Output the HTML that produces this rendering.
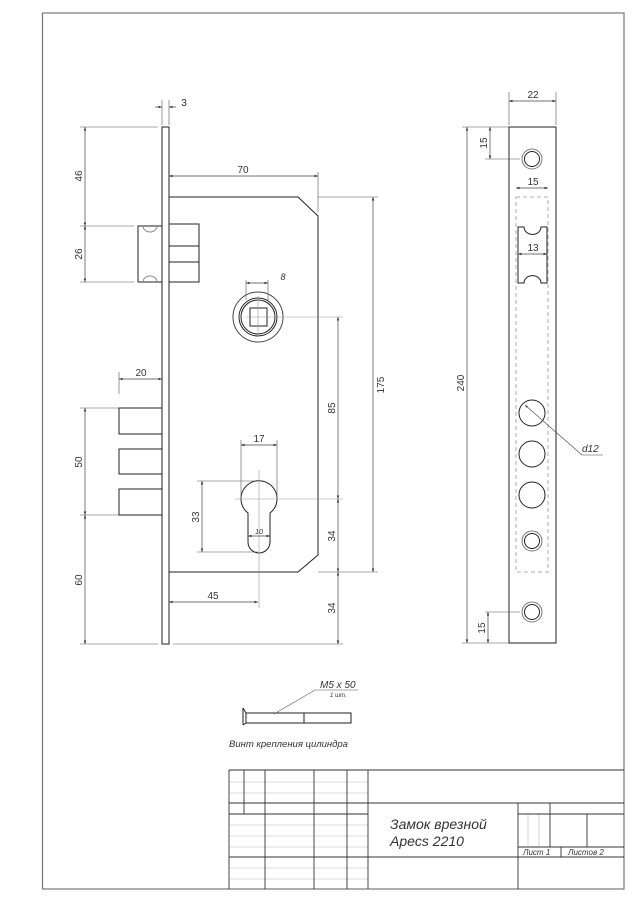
<!DOCTYPE html>
<html><head><meta charset="utf-8"><style>
html,body{margin:0;padding:0;background:#fff;width:636px;height:900px;overflow:hidden}
svg{display:block}
text{font-family:"Liberation Sans",sans-serif;fill:#333}
</style></head><body>
<svg width="636" height="900" viewBox="0 0 636 900" xmlns="http://www.w3.org/2000/svg">
<defs>
<marker id="a" viewBox="0 0 10 10" refX="10" refY="5" markerWidth="5" markerHeight="5" orient="auto-start-reverse"><path d="M0,1.5 L10,5 L0,8.5 z" fill="#333"/></marker>
</defs>
<rect x="42.5" y="13" width="581.5" height="876" fill="none" stroke="#777" stroke-width="1.2"/>

<g stroke="#222" stroke-width="1" fill="none">
<rect x="162" y="127" width="7" height="517"/>
<path d="M169,197 H298 L318,216 V555 L298,572 H169"/>
<rect x="138" y="226" width="24" height="56"/>
<path d="M143,226 A7,6 0 0 0 157,226 M143,282 A7,6 0 0 1 157,282" stroke="#888"/>
<rect x="169" y="224" width="30" height="58"/>
<line x1="169" y1="246" x2="199" y2="246"/><line x1="169" y1="262" x2="199" y2="262"/>
<rect x="119" y="408" width="43" height="26"/>
<rect x="119" y="449" width="43" height="25"/>
<rect x="119" y="489" width="43" height="26"/>
<circle cx="258" cy="317" r="25" stroke="#444"/>
<circle cx="258" cy="317" r="19"/>
<circle cx="258" cy="317" r="17"/>
<rect x="250" y="308" width="17" height="18"/>
<path d="M248,513 A18,18 0 1 1 270,513 V542 A11,11 0 0 1 248,542 Z"/>
</g>
<g stroke="#999" stroke-width="0.6" fill="none">
<line x1="246" y1="317" x2="343" y2="317"/><line x1="258" y1="296" x2="258" y2="334"/>
<line x1="259" y1="470" x2="259" y2="608"/><line x1="235" y1="499" x2="343" y2="499"/>
</g>
<g stroke="#555" stroke-width="0.6" fill="none">
<line x1="80" y1="127" x2="158" y2="127"/>
<line x1="80" y1="226" x2="134" y2="226"/>
<line x1="80" y1="282" x2="134" y2="282"/>
<line x1="80" y1="408" x2="119" y2="408"/>
<line x1="80" y1="515" x2="119" y2="515"/>
<line x1="80" y1="644" x2="158" y2="644"/>
<line x1="173" y1="644" x2="343" y2="644"/>
<line x1="318" y1="172" x2="318" y2="212"/>
<line x1="318" y1="197" x2="378" y2="197"/>
<line x1="318" y1="572" x2="378" y2="572"/>
<line x1="119" y1="372" x2="119" y2="394"/>
<line x1="162" y1="100" x2="162" y2="125"/><line x1="169" y1="100" x2="169" y2="125"/>
<line x1="241" y1="440" x2="241" y2="499"/><line x1="277" y1="440" x2="277" y2="499"/>
<line x1="197" y1="481" x2="255" y2="481"/><line x1="197" y1="552" x2="258" y2="552"/>
<line x1="246" y1="280" x2="246" y2="300"/><line x1="268" y1="280" x2="268" y2="300"/>
<line x1="509" y1="92" x2="509" y2="125"/><line x1="556" y1="92" x2="556" y2="125"/>
<line x1="462" y1="127" x2="509" y2="127"/><line x1="462" y1="643" x2="509" y2="643"/>
<line x1="485" y1="159" x2="520" y2="159"/><line x1="485" y1="612" x2="520" y2="612"/>
</g>
<g stroke="#444" stroke-width="0.7" fill="none" marker-start="url(#a)" marker-end="url(#a)">
<line x1="155" y1="107" x2="162" y2="107" marker-start="none"/>
<line x1="169" y1="107" x2="176" y2="107" marker-end="none" marker-start="url(#a)"/>
<line x1="85" y1="127" x2="85" y2="226"/>
<line x1="85" y1="226" x2="85" y2="282"/>
<line x1="85" y1="408" x2="85" y2="515"/>
<line x1="85" y1="515" x2="85" y2="644"/>
<line x1="169" y1="176" x2="318" y2="176"/>
<line x1="373" y1="197" x2="373" y2="572"/>
<line x1="338" y1="317" x2="338" y2="499"/>
<line x1="338" y1="499" x2="338" y2="572"/>
<line x1="338" y1="572" x2="338" y2="644"/>
<line x1="119" y1="379" x2="162" y2="379"/>
<line x1="241" y1="445" x2="277" y2="445"/>
<line x1="202" y1="481" x2="202" y2="552"/>
<line x1="169" y1="602" x2="258" y2="602"/>
<line x1="246" y1="283" x2="268" y2="283"/>
<line x1="248" y1="536" x2="270" y2="536"/>
<line x1="509" y1="101" x2="556" y2="101"/>
<line x1="467" y1="127" x2="467" y2="643"/>
<line x1="490" y1="127" x2="490" y2="159"/>
<line x1="488" y1="612" x2="488" y2="643"/>
<line x1="516" y1="188" x2="548" y2="188"/>
<line x1="518" y1="254" x2="547" y2="254"/>
</g>
<g font-size="10" text-anchor="middle">
<text x="184" y="106">3</text>
<text x="243" y="173">70</text>
<text x="141" y="376">20</text>
<text x="259" y="442">17</text>
<text x="213" y="599">45</text>
<text x="533" y="98">22</text>
<text x="533" y="185">15</text>
<text x="533" y="251">13</text>
<text transform="translate(82,176) rotate(-90)">46</text>
<text transform="translate(82,254) rotate(-90)">26</text>
<text transform="translate(82,462) rotate(-90)">50</text>
<text transform="translate(82,580) rotate(-90)">60</text>
<text transform="translate(384,385) rotate(-90)">175</text>
<text transform="translate(335,408) rotate(-90)">85</text>
<text transform="translate(335,536) rotate(-90)">34</text>
<text transform="translate(335,608) rotate(-90)">34</text>
<text transform="translate(199,517) rotate(-90)">33</text>
<text transform="translate(464,383) rotate(-90)">240</text>
<text transform="translate(487,143) rotate(-90)">15</text>
<text transform="translate(485,628) rotate(-90)">15</text>
</g>
<text x="283" y="280" font-size="9" font-style="italic" text-anchor="middle">8</text>
<text x="259" y="534" font-size="7" font-style="italic" text-anchor="middle">10</text>

<g stroke="#222" stroke-width="1" fill="none">
<rect x="509" y="127" width="47" height="516"/>
<rect x="516" y="197" width="32" height="375" stroke="#999" stroke-dasharray="4,3" stroke-width="0.8"/>
<path d="M518,227 H524 A8,7 0 0 0 541,227 H547 V283 H541 A8,7 0 0 0 524,283 H518 Z"/>
<circle cx="532" cy="413" r="13"/><circle cx="532" cy="454" r="13"/><circle cx="532" cy="495" r="13"/>
<circle cx="532" cy="159" r="10" stroke="#777"/><circle cx="532" cy="159" r="7.5"/>
<circle cx="532" cy="541" r="10" stroke="#777"/><circle cx="532" cy="541" r="7.5"/>
<circle cx="532" cy="612" r="10" stroke="#777"/><circle cx="532" cy="612" r="7.5"/>
</g>
<path d="M582,455 L525,405" stroke="#444" stroke-width="0.6" marker-end="url(#a)"/>
<line x1="582" y1="455" x2="603" y2="455" stroke="#444" stroke-width="0.6"/>
<text x="582" y="452" font-size="10" font-style="italic">d12</text>

<g stroke="#222" stroke-width="1" fill="none">
<path d="M243,708 V725 M243,708 L246,713 M243,725 L246,723"/>
<rect x="246" y="713" width="105" height="10"/>
<line x1="304" y1="713" x2="304" y2="723"/>
</g>
<path d="M274,714 L315,690 H358" stroke="#555" stroke-width="0.6" fill="none"/>
<text x="320" y="688" font-size="10" font-style="italic">M5 x 50</text>
<text x="330" y="697" font-size="6" font-style="italic">1 шт.</text>
<text x="229" y="747" font-size="9.5" font-style="italic">Винт крепления цилиндра</text>

<g stroke="#bbb" stroke-width="0.6">
<line x1="229" y1="782" x2="368" y2="782"/><line x1="229" y1="793" x2="368" y2="793"/>
<line x1="229" y1="825" x2="368" y2="825"/><line x1="229" y1="836" x2="368" y2="836"/>
<line x1="229" y1="847" x2="368" y2="847"/><line x1="229" y1="868" x2="368" y2="868"/>
<line x1="229" y1="879" x2="368" y2="879"/>
<line x1="528" y1="814" x2="528" y2="847"/><line x1="539" y1="814" x2="539" y2="847"/>
</g>
<g stroke="#333" stroke-width="0.9">
<line x1="229" y1="770" x2="624" y2="770"/>
<line x1="229" y1="770" x2="229" y2="889"/>
<line x1="244" y1="770" x2="244" y2="814"/>
<line x1="265" y1="770" x2="265" y2="889"/>
<line x1="314" y1="770" x2="314" y2="889"/>
<line x1="347" y1="770" x2="347" y2="889"/>
<line x1="368" y1="770" x2="368" y2="889"/>
<line x1="229" y1="803" x2="624" y2="803"/>
<line x1="229" y1="814" x2="368" y2="814"/>
<line x1="229" y1="857" x2="368" y2="857"/>
<line x1="368" y1="857" x2="624" y2="857"/>
<line x1="518" y1="803" x2="518" y2="889"/>
<line x1="550" y1="803" x2="550" y2="847"/>
<line x1="518" y1="814" x2="624" y2="814"/>
<line x1="587" y1="814" x2="587" y2="847"/>
<line x1="518" y1="847" x2="624" y2="847"/>
<line x1="561" y1="847" x2="561" y2="857"/>
</g>
<text x="390" y="829" font-size="14" font-style="italic">Замок врезной</text>
<text x="390" y="846" font-size="14" font-style="italic">Apecs 2210</text>
<text x="523" y="855" font-size="8" font-style="italic">Лист 1</text>
<text x="568" y="855" font-size="8" font-style="italic">Листов 2</text>
</svg>
</body></html>
